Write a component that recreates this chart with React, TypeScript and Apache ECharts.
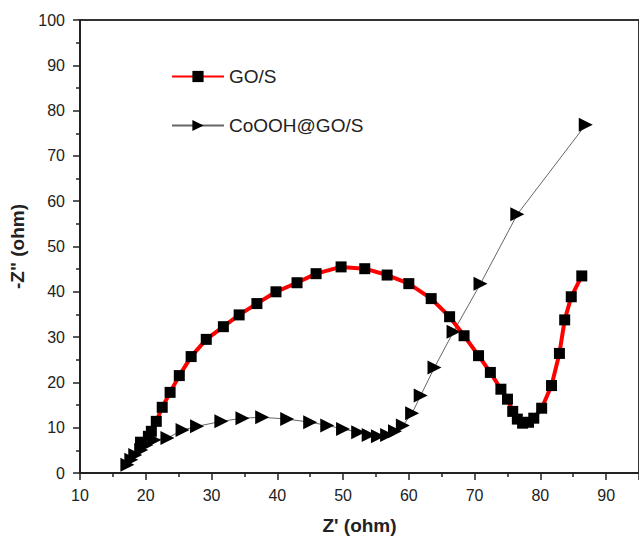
import React, { useEffect, useRef } from "react";
import * as echarts from "echarts";

const goSX = [19.2, 20.4, 20.85, 21.6, 22.5, 23.7, 25.1, 26.9, 29.2, 31.8, 34.2, 36.9, 39.8, 43.0, 45.9, 49.7, 53.3, 56.7, 60.0, 63.4, 66.2, 68.4, 70.6, 72.4, 74.0, 75.0, 75.8, 76.5, 77.3, 78.2, 79.0, 80.2, 81.7, 82.9, 83.7, 84.7, 86.3];
const goSY = [6.8, 8.1, 9.2, 11.4, 14.5, 17.8, 21.5, 25.7, 29.5, 32.3, 34.9, 37.4, 40.0, 42.0, 44.0, 45.5, 45.1, 43.7, 41.8, 38.5, 34.5, 30.3, 25.9, 22.2, 18.5, 16.3, 13.6, 11.9, 11.0, 11.2, 12.1, 14.3, 19.3, 26.4, 33.8, 38.9, 43.5];

const coX = [17.2, 17.8, 18.4, 19.3, 20.1, 21.3, 23.3, 25.6, 27.8, 31.5, 34.7, 37.7, 41.5, 45.0, 47.6, 50.0, 52.3, 53.9, 55.3, 56.7, 57.9, 59.1, 60.5, 61.8, 63.9, 66.8, 70.9, 76.5, 86.9];
const coY = [1.8, 2.9, 4.0, 5.1, 6.2, 7.3, 7.7, 9.5, 10.3, 11.4, 12.1, 12.3, 11.9, 11.2, 10.5, 9.7, 9.0, 8.4, 8.1, 8.4, 9.2, 10.5, 13.2, 17.1, 23.3, 31.2, 41.8, 57.1, 76.9];

const seriesNames = ["GO/S", "CoOOH@GO/S"];
const xTitle = "Z' (ohm)";
const yTitle = '-Z" (ohm)';

const FONT = "Liberation Sans, Arial, sans-serif";

export default function App() {
  const ref = useRef<HTMLDivElement>(null);
  useEffect(() => {
    if (!ref.current) return;
    const chart = echarts.init(ref.current, null, { renderer: "svg" });
    const pair = (xs: number[], ys: number[]) => xs.map((x, i) => [x, ys[i]]);
    chart.setOption({
      animation: false,
      backgroundColor: "#ffffff",
      textStyle: { fontFamily: FONT },
      grid: { left: 80, top: 20, right: 0, bottom: 65, show: true, borderColor: "#333", borderWidth: 2 },
      legend: {
        orient: "vertical",
        left: 166,
        top: 62,
        itemGap: 30,
        itemWidth: 52,
        itemHeight: 14,
        textStyle: { fontSize: 19, color: "#222", fontFamily: FONT },
        data: seriesNames,
      },
      xAxis: {
        type: "value",
        min: 10,
        max: 95,
        interval: 10,
        name: xTitle,
        nameLocation: "middle",
        nameGap: 43,
        nameTextStyle: { fontSize: 19, fontWeight: "bold", color: "#222", fontFamily: FONT },
        axisLine: { lineStyle: { color: "#222", width: 2 } },
        axisTick: { show: true, length: 7, lineStyle: { color: "#222", width: 1.5 } },
        minorTick: { show: true, splitNumber: 2, length: 4, lineStyle: { color: "#222", width: 1.5 } },
        axisLabel: { fontSize: 16, color: "#222", margin: 14, showMaxLabel: false, fontFamily: FONT },
        splitLine: { show: false },
      },
      yAxis: {
        type: "value",
        min: 0,
        max: 100,
        interval: 10,
        name: yTitle,
        nameLocation: "middle",
        nameGap: 52,
        nameTextStyle: { fontSize: 19, fontWeight: "bold", color: "#222", fontFamily: FONT },
        axisLine: { lineStyle: { color: "#222", width: 2 } },
        axisTick: { show: true, length: 7, lineStyle: { color: "#222", width: 1.5 } },
        minorTick: { show: true, splitNumber: 2, length: 4, lineStyle: { color: "#222", width: 1.5 } },
        axisLabel: { fontSize: 16, color: "#222", margin: 15, fontFamily: FONT },
        splitLine: { show: false },
      },
      series: [
        {
          name: seriesNames[1],
          type: "line",
          data: pair(coX, coY),
          symbol: "triangle",
          symbolRotate: -90,
          symbolSize: 14,
          itemStyle: { color: "#000" },
          lineStyle: { color: "#666", width: 1 },
          z: 2,
        },
        {
          name: seriesNames[0],
          type: "line",
          data: pair(goSX, goSY),
          symbol: "rect",
          symbolSize: 11,
          itemStyle: { color: "#000" },
          lineStyle: { color: "#ff0000", width: 4 },
          z: 3,
        },
      ],
    });
    return () => chart.dispose();
  }, []);
  return (
    <div
      ref={ref}
      style={{ position: "fixed", left: 0, top: 0, width: 639, height: 540, background: "#fff" }}
    />
  );
}
